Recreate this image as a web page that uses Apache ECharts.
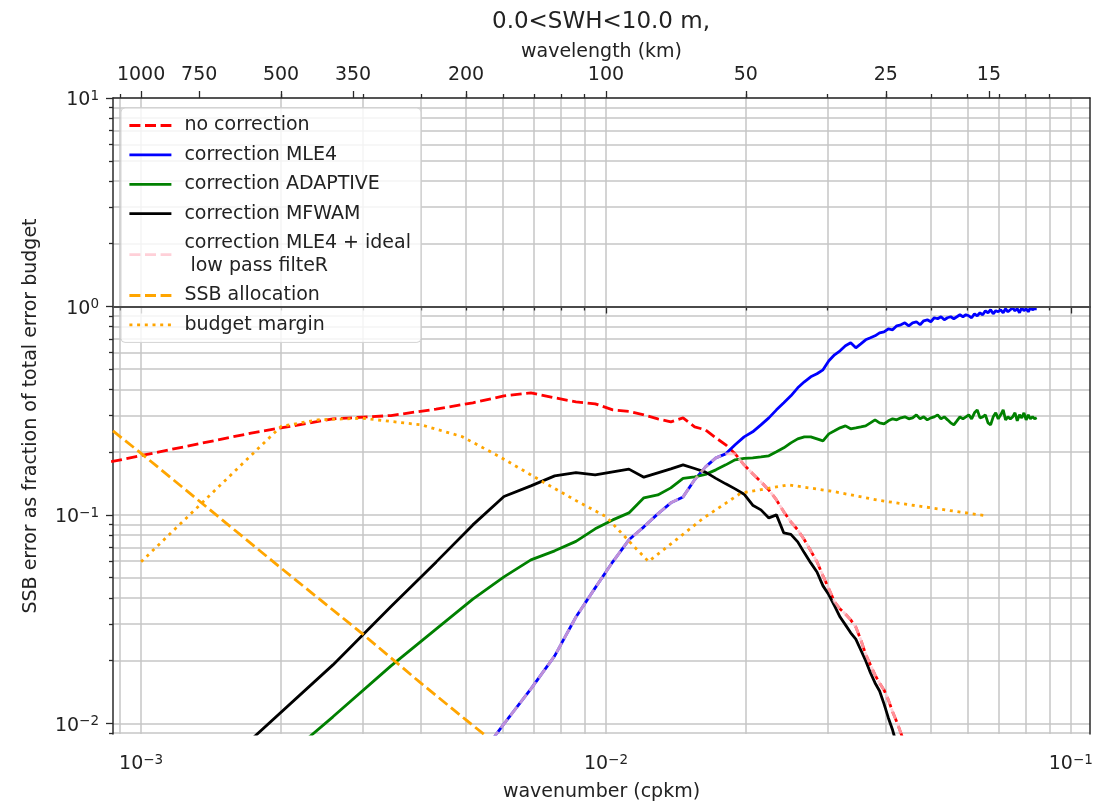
<!DOCTYPE html>
<html>
<head>
<meta charset="utf-8">
<script src="https://cdn.jsdelivr.net/npm/echarts@6/dist/echarts.min.js"></script>
<style>html,body{margin:0;padding:0;background:#fff}#chart{width:1097px;height:802px}</style>
</head>
<body>
<div id="chart"></div>
<script>
// ---------- data ----------
const wavenumber = [0.000862,0.001724,0.002586,0.003448,0.00431,0.005172,0.006034,0.006896,0.007758,0.00862,
0.009482,0.010344,0.011206,0.012068,0.01293,0.013792,0.014654,0.015516,0.016378,0.01724,
0.018102,0.018964,0.019826,0.020688,0.02155,0.022412,0.023274,0.024136,0.024998,0.02586,
0.026722,0.027584,0.028446,0.029308,0.03017,0.031032,0.031894,0.032756,0.033618,0.03448,
0.035342,0.036204,0.037066,0.037928,0.03879,0.039652,0.040514,0.041376,0.042238,0.0431,
0.043962,0.044824,0.045686,0.046548,0.04741,0.048272,0.049134,0.049996,0.050858,0.05172,
0.052582,0.053444,0.054306,0.055168,0.05603,0.056892,0.057754,0.058616,0.059478,0.06034,
0.061202,0.062064,0.062926,0.063788,0.06465,0.065512,0.066374,0.067236,0.068098,0.06896,
0.069822,0.070684,0.071546,0.072408,0.07327,0.074132,0.074994,0.075856,0.076718,0.07758,
0.078442,0.079304,0.080166,0.081028,0.08189,0.082752,0.083614,0.084476];

const noCorrection = [0.180,0.2469,0.289,0.2999,0.322,0.345,0.3728,0.3853,0.3646,0.3489,
0.3413,0.3193,0.3142,0.3022,0.2891,0.2797,0.2923,0.2646,0.2560,0.2344,
0.2170,0.1964,0.1739,0.1575,0.1441,0.1319,0.1181,0.1035,0.0927,0.0848,
0.0760,0.0673,0.0596,0.0510,0.0442,0.0383,0.0354,0.0335,0.0314,0.0290,
0.0252,0.0215,0.0191,0.0171,0.0156,0.01448,0.01297,0.01136,0.01017,0.0090,
0.0079];

const correctionMLE4 = [null,null,null,null,null,0.00629,0.00995,0.01464,0.0211,0.0324,
0.0447,0.0596,0.0760,0.0877,0.1012,0.1143,0.1221,0.1474,0.1701,0.1879,
0.1964,0.2170,0.2370,0.2505,0.2706,0.2923,0.3193,0.3450,0.3728,0.4074,
0.4352,0.4600,0.4755,0.4969,0.5489,0.5865,0.6130,0.6477,0.6696,0.6336,
0.6622,0.6921,0.7076,0.7234,0.7478,0.7562,0.7817,0.7731,0.8080,0.8170,
0.8352,0.8080,0.8352,0.8445,0.8170,0.8539,0.8634,0.8445,0.8827,0.8730,
0.8925,0.8634,0.8827,0.8925,0.8730,0.8925,0.9124,0.8925,0.9124,0.9024,
0.8827,0.9226,0.9024,0.9328,0.9124,0.9537,0.9328,0.9643,0.9226,0.9537,
0.9432,0.9643,0.9328,0.9750,0.9432,0.9643,0.9858,0.9537,0.9750,0.9328,
0.9858,0.9537,0.9750,0.9432,0.9858,0.9643,0.9750,0.9750];

const correctionAdaptive = [null,0.00497,0.01076,0.01888,0.02835,0.0395,0.0505,0.0609,0.0673,0.0747,
0.0858,0.0947,0.1023,0.1208,0.1248,0.1349,0.1498,0.1523,0.1566,0.1646,
0.1739,0.1838,0.1870,0.1879,0.1900,0.1921,0.2009,0.2099,0.2218,0.2318,
0.2370,0.2370,0.2318,0.2267,0.2449,0.2532,0.2618,0.2676,0.2589,0.2618,
0.2647,0.2676,0.2766,0.2859,0.2766,0.2736,0.2828,0.2891,0.2859,0.2923,
0.2956,0.2891,0.2923,0.3022,0.2891,0.2956,0.2859,0.2923,0.2956,0.3022,
0.2891,0.2956,0.2859,0.2766,0.2706,0.2828,0.2956,0.2891,0.2956,0.3022,
0.2891,0.3090,0.3193,0.2923,0.2956,0.3022,0.2766,0.2706,0.2956,0.3090,
0.2891,0.3022,0.3193,0.2859,0.2956,0.2891,0.2956,0.3090,0.2828,0.3022,
0.2923,0.3090,0.2859,0.3022,0.2891,0.2956,0.2891,0.2923];

const correctionMFWAM = [null,0.00836,0.01909,0.0364,0.0594,0.0896,0.1226,0.1379,0.154,0.1598,
0.1558,0.161,0.1659,0.1518,0.1592,0.1664,0.1739,0.167,0.1605,0.1498,
0.141,0.1334,0.1258,0.1114,0.1058,0.0968,0.1001,0.0820,0.0807,0.0743,
0.0658,0.0589,0.0533,0.0457,0.0414,0.0366,0.0324,0.0297,0.0272,0.0254,
0.0225,0.0200,0.0175,0.01564,0.01432,0.01241,0.01063,0.0093,0.00788];

const correctionLowPass = [null,null,null,null,null,0.00629,0.00995,0.01464,0.0211,0.0324,
0.0447,0.0596,0.0760,0.0877,0.1012,0.1143,0.1221,0.1474,0.1701,0.1879,
0.1964,0.1964,0.1739,0.1575,0.1441,0.1319,0.1181,0.1035,0.0927,0.0848,
0.0760,0.0673,0.0596,0.0510,0.0442,0.0383,0.0354,0.0335,0.0314,0.0290,
0.0252,0.0215,0.0191,0.0171,0.0156,0.01448,0.01297,0.01136,0.01017,0.0090,
0.0079];

const allocationK = [0.00087,0.001,0.002,0.003,0.004,0.005,0.006];
const allocationV = [0.253,0.1975,0.0556,0.0268,0.0156,0.0104,0.0075];

const marginK = [0.001,0.002,0.0024,0.003,0.004,0.0049,0.0059,0.0073,0.0087,0.01,
0.0115,0.01235,0.014,0.0162,0.0195,0.0247,0.0309,0.0389,0.0506,0.066];
const marginV = [0.0596,0.266,0.286,0.291,0.2706,0.2378,0.1906,0.1446,0.1159,0.0983,
0.0705,0.0598,0.0745,0.0965,0.1272,0.1395,0.1295,0.1173,0.1078,0.099];

// tick labels / positions
const xMajorTicks = [0.001,0.01,0.1];
const xMinorTicks = [0.0009,0.002,0.003,0.004,0.005,0.006,0.007,0.008,0.009,
  0.02,0.03,0.04,0.05,0.06,0.07,0.08,0.09];
const yMajorTicks = [0.01,0.1,1,10];
const yMinorTicks = [0.009,0.02,0.03,0.04,0.05,0.06,0.07,0.08,0.09,
  0.2,0.3,0.4,0.5,0.6,0.7,0.8,0.9,2,3,4,5,6,7,8,9];
const topWavelengthTicks = [1000,750,500,350,200,100,50,25,15];

const seriesNames = ['no correction','correction MLE4','correction ADAPTIVE','correction MFWAM',
  'correction MLE4 + ideal\n low pass filteR','SSB allocation','budget margin'];

// ---------- chart ----------
const XMIN = 0.00087, XMAX = 0.11, YMIN = 0.0089, YMAX = 10;
const LOG = Math.log10;
const FONT = 'DejaVu Sans';
const TXT = '#222';
function powLabel(v){ const e = Math.round(v); return '{b|10}{s|' + String(e).replace('-', '\u2212') + '}'; }
const powRich = {
  b:{fontSize:19, fontFamily:FONT, color:TXT, lineHeight:22},
  s:{fontSize:13.5, fontFamily:FONT, color:TXT, verticalAlign:'top'}
};

const gridLine = {show:true, lineStyle:{color:'#c6c6c6', width:1.5}};
const spine = {show:true, lineStyle:{color:'#2a2a2a', width:1.5}};
const tickStyle = {color:'#2a2a2a', width:1.3};

function pairs(xs, ys){ return xs.map((k,i)=>[k, ys[i]]).filter(p=>p[1]!=null); }

const dashed = [11,4.6];
const chart = echarts.init(document.getElementById('chart'), null, {renderer:'canvas'});
chart.setOption({
  animation:false,
  backgroundColor:'#ffffff',
  graphic:[{type:'text', x:601, y:22, style:{text:'0.0<SWH<10.0 m,', fontSize:23, fontFamily:FONT,
    fill:TXT, align:'center', verticalAlign:'middle', textAlign:'center', textVerticalAlign:'middle'}}],
  grid:{left:113, top:98, width:977, height:636, containLabel:false, outerBoundsMode:'none'},
  legend:{
    orient:'vertical', left:121, top:108,
    padding:[6,10,6,7], itemGap:6.4, itemWidth:42, itemHeight:14,
    backgroundColor:'rgba(255,255,255,0.8)', borderColor:'#d3d3d3', borderWidth:1, borderRadius:4,
    itemStyle:{opacity:0},
    lineStyle:{width:2.8},
    textStyle:{fontSize:19, fontFamily:FONT, color:TXT, lineHeight:23, padding:[0,0,0,8]},
    data:seriesNames
  },
  xAxis:[
    {type:'log', logBase:10, min:XMIN, max:XMAX, show:false},
    {type:'value', position:'bottom', min:LOG(XMIN), max:LOG(XMAX),
      axisLine:spine,
      axisTick:{show:true, customValues:xMajorTicks.map(LOG), length:7, lineStyle:tickStyle},
      axisLabel:{show:true, customValues:xMajorTicks.map(LOG), formatter:powLabel, rich:powRich,
        fontSize:19, fontFamily:FONT, color:TXT, margin:19},
      splitLine:gridLine,
      name:'wavenumber (cpkm)', nameLocation:'middle', nameGap:49,
      nameTextStyle:{fontSize:19, fontFamily:FONT, color:TXT}},
    {type:'value', position:'bottom', min:LOG(XMIN), max:LOG(XMAX),
      axisLine:{show:false},
      axisTick:{show:true, customValues:xMinorTicks.map(LOG), length:4, lineStyle:tickStyle},
      axisLabel:{show:false}, splitLine:gridLine},
    {type:'value', position:'top', min:LOG(XMIN), max:LOG(XMAX),
      axisLine:spine,
      axisTick:{show:true, customValues:topWavelengthTicks.map(l=>LOG(1/l)), length:7, lineStyle:tickStyle},
      axisLabel:{show:true, customValues:topWavelengthTicks.map(l=>LOG(1/l)),
        formatter:v=>String(Math.round(Math.pow(10,-v))), fontSize:19, fontFamily:FONT, color:TXT, margin:13},
      splitLine:{show:false},
      name:'wavelength (km)', nameLocation:'middle', nameGap:35,
      nameTextStyle:{fontSize:19, fontFamily:FONT, color:TXT}},
    {type:'value', position:'top', min:LOG(XMIN), max:LOG(XMAX),
      axisLine:{show:false},
      axisTick:{show:true, customValues:xMinorTicks.map(LOG), length:4, lineStyle:tickStyle},
      axisLabel:{show:false}, splitLine:{show:false}}
  ],
  yAxis:[
    {type:'log', logBase:10, min:YMIN, max:YMAX, show:false},
    {type:'value', position:'left', min:LOG(YMIN), max:LOG(YMAX),
      axisLine:spine,
      axisTick:{show:true, customValues:yMajorTicks.map(LOG), length:7, lineStyle:tickStyle},
      axisLabel:{show:true, customValues:yMajorTicks.map(LOG), formatter:powLabel, rich:powRich,
        fontSize:19, fontFamily:FONT, color:TXT, margin:14, padding:[5,0,0,0]},
      splitLine:gridLine,
      name:'SSB error as fraction of total error budget', nameLocation:'middle', nameGap:72,
      nameTextStyle:{fontSize:19, fontFamily:FONT, color:TXT}},
    {type:'value', position:'left', min:LOG(YMIN), max:LOG(YMAX),
      axisLine:{show:false},
      axisTick:{show:true, customValues:yMinorTicks.map(LOG), length:4, lineStyle:tickStyle},
      axisLabel:{show:false}, splitLine:gridLine},
    {type:'value', position:'right', min:LOG(YMIN), max:LOG(YMAX),
      axisLine:spine, axisTick:{show:false}, axisLabel:{show:false}, splitLine:{show:false}}
  ],
  series:[
    {name:seriesNames[0], type:'line', symbol:'none', xAxisIndex:0, yAxisIndex:0,
      data:pairs(wavenumber, noCorrection),
      lineStyle:{color:'#ff0000', width:2.8, type:dashed}, itemStyle:{color:'#ff0000'}},
    {name:seriesNames[1], type:'line', symbol:'none', xAxisIndex:0, yAxisIndex:0,
      data:pairs(wavenumber, correctionMLE4),
      lineStyle:{color:'#0000ff', width:2.8}, itemStyle:{color:'#0000ff'},
      markLine:{silent:true, symbol:['none','none'], label:{show:false},
        lineStyle:{color:'#4a4a4a', width:2, type:'solid'}, data:[{yAxis:1}]}},
    {name:seriesNames[2], type:'line', symbol:'none', xAxisIndex:0, yAxisIndex:0,
      data:pairs(wavenumber, correctionAdaptive),
      lineStyle:{color:'#008000', width:2.8}, itemStyle:{color:'#008000'}},
    {name:seriesNames[3], type:'line', symbol:'none', xAxisIndex:0, yAxisIndex:0,
      data:pairs(wavenumber, correctionMFWAM),
      lineStyle:{color:'#000000', width:2.8}, itemStyle:{color:'#000000'}},
    {name:seriesNames[4], type:'line', symbol:'none', xAxisIndex:0, yAxisIndex:0,
      data:pairs(wavenumber, correctionLowPass),
      lineStyle:{color:'#ffc0cb', width:2.8, type:dashed, opacity:0.75}, itemStyle:{color:'#ffc0cb'}},
    {name:seriesNames[5], type:'line', symbol:'none', xAxisIndex:0, yAxisIndex:0,
      data:pairs(allocationK, allocationV),
      lineStyle:{color:'#ffa500', width:2.8, type:dashed}, itemStyle:{color:'#ffa500'}},
    {name:seriesNames[6], type:'line', symbol:'none', xAxisIndex:0, yAxisIndex:0,
      data:pairs(marginK, marginV),
      lineStyle:{color:'#ffa500', width:2.8, type:[3,4.7]}, itemStyle:{color:'#ffa500'}}
  ]
});
</script>
</body>
</html>
